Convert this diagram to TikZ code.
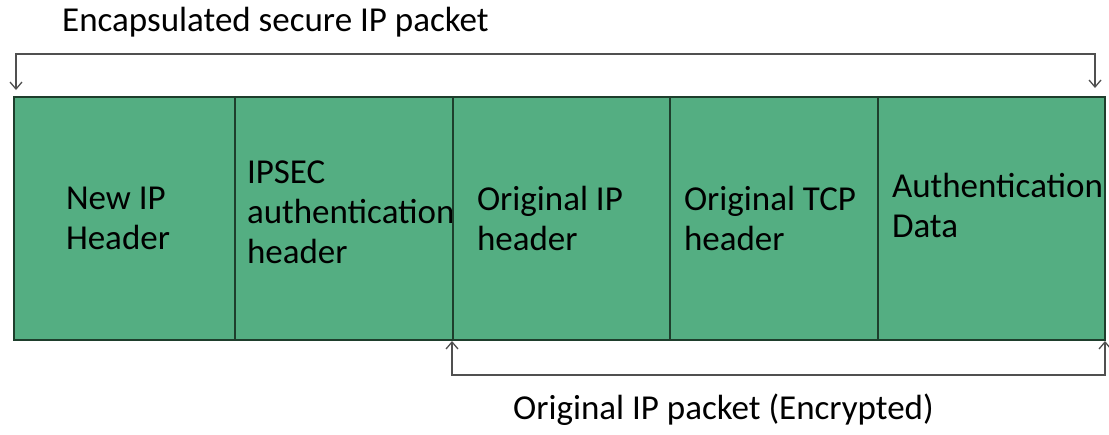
\documentclass[tikz,border=0pt]{standalone}
\usepackage{fontspec}
\setmainfont{Carlito}
\usetikzlibrary{arrows.meta, positioning, calc}
\definecolor{packetgreen}{RGB}{84,174,130}
\definecolor{packetedge}{RGB}{30,62,44}
\definecolor{bracketgray}{RGB}{80,80,80}
\newcommand{\fieldfont}{\fontsize{35}{40}\selectfont\hyphenpenalty=10000\relax}
\tikzstyle{field} = [
    rectangle, minimum height=243pt, inner ysep=0pt, outer sep=0pt,
    align=flush left, draw=packetedge, line width=1.8pt, fill=packetgreen
]
\tikzstyle{caption} = [anchor=west, inner sep=0pt]
\tikzstyle{bracket} = [bracketgray, line width=1.3pt, <->, >={Straight Barb[length=7pt,width=12pt]}]

\begin{document}
\begin{tikzpicture}[
    x=1pt, y=-1pt,
    font=\fieldfont
]
\useasboundingbox (0,0) rectangle (1109,434);

% Campos del paquete
\node (n1) [field, anchor=north west, text width=117pt, inner xsep=52pt] at (14,97) {New IP \\ Header};
\node (n2) [field, right=0pt of n1, text width=194pt, inner xsep=12pt, text depth=92pt] {IPSEC \\ authentication \\ header};
\node (n3) [field, right=0pt of n2, text width=169pt, inner xsep=24pt]  {Original IP \\ header};
\node (n4) [field, right=0pt of n3, text width=180pt, inner xsep=14pt]  {Original TCP \\ header};
\node (n5) [field, right=0pt of n4, text width=199pt, inner xsep=14pt, text depth=66pt] {Authentication \\ Data};

% Extremos de las llaves
\coordinate (encL)  at ($(n1.north west)+(2,-7)$);
\coordinate (encR)  at ($(n5.north east)+(-10,-9)$);
\coordinate (origL) at ($(n3.south west)+(-1,1)$);
\coordinate (origR) at ($(n5.south east)+(0,1)$);

% Llaves
\draw [bracket] (encL) -- ++(0,-36) -| (encR);
\draw [bracket] (origL) -- ++(0,34) -| (origR);

% Textos
\node (enc)  [caption] at (62,22)   {Encapsulated secure IP packet};
\node (orig) [caption] at (513,410) {Original IP packet (Encrypted)};

\end{tikzpicture}
\end{document}
